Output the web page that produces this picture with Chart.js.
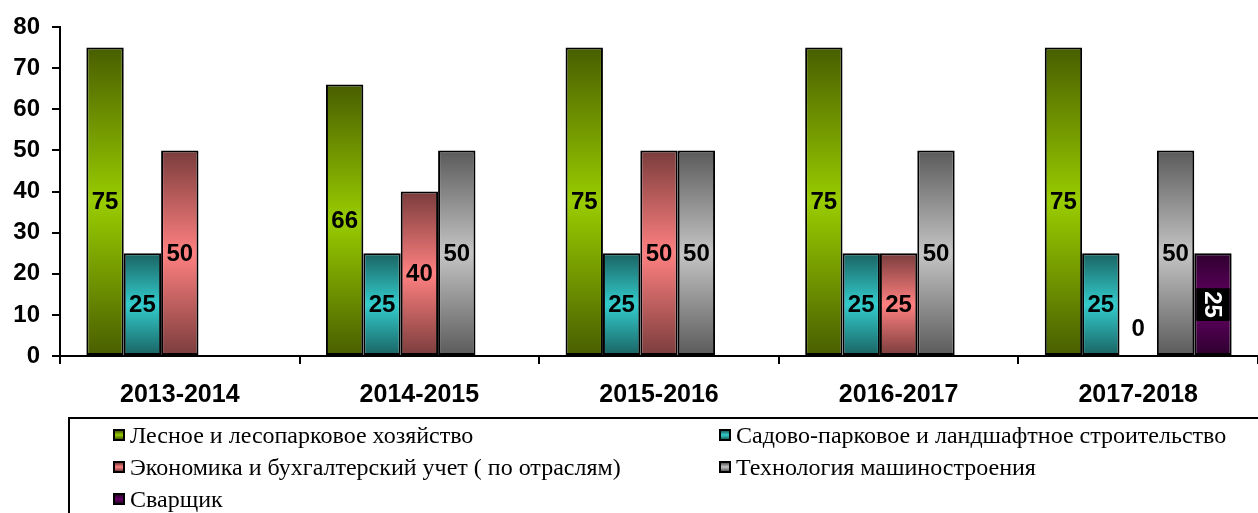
<!DOCTYPE html>
<html>
<head>
<meta charset="utf-8">
<script src="https://cdn.jsdelivr.net/npm/chart.js@4"></script>
<style>
  html, body { margin: 0; padding: 0; background: #fff; overflow: hidden; }
  #wrap { position: relative; width: 1258px; height: 513px; }
  #legend {
    position: absolute; left: 68px; top: 417px; width: 1300px; height: 200px;
    border: 2px solid #000; box-sizing: border-box;
    display: grid; grid-template-columns: 606px auto; grid-auto-rows: 32px;
    padding-left: 43px;
    font-family: "Liberation Serif", "Times New Roman", serif; font-size: 24px; color: #000;
  }
  .item { display: flex; align-items: center; white-space: nowrap; }
  .mark { width: 12px; height: 12px; border: 2px solid #000; box-sizing: border-box; margin-right: 5px; }
</style>
</head>
<body>
<div id="wrap">
  <canvas id="c" width="1258" height="513"></canvas>
  <div id="legend"></div>
</div>
<script>
// data
const years = ['2013-2014', '2014-2015', '2015-2016', '2016-2017', '2017-2018'];
const forestry  = [75, 66, 75, 75, 75];
const gardens   = [25, 25, 25, 25, 25];
const economics = [50, 40, 50, 25, 0];
const machinery = [null, 50, 50, 50, 50];
const welder    = [null, null, null, null, 25];
const yTicks = [0, 10, 20, 30, 40, 50, 60, 70, 80];

const series = [
  { name: 'Лесное и лесопарковое хозяйство', data: forestry, dark: '#485e00', light: '#99cc00' },
  { name: 'Садово-парковое и ландшафтное строительство', data: gardens, dark: '#1a6262', light: '#33cccc' },
  { name: 'Экономика и бухгалтерский учет ( по отраслям)', data: economics, dark: '#7a3c3c', light: '#ff8080' },
  { name: 'Технология машиностроения', data: machinery, dark: '#5a5a5a', light: '#c4c4c4' },
  { name: 'Сварщик', data: welder, dark: '#2e002e', light: '#660066', boxed: true }
];

function barFill(dark, light) {
  return (c) => {
    const chart = c.chart;
    if (!chart.chartArea || c.raw == null) return light;
    const y = chart.scales.y;
    const top = y.getPixelForValue(c.raw), bottom = y.getPixelForValue(0);
    if (bottom - top < 1) return light;
    const g = chart.ctx.createLinearGradient(0, top, 0, bottom);
    g.addColorStop(0, dark);
    g.addColorStop(0.5, light);
    g.addColorStop(1, dark);
    return g;
  };
}

const font = { family: '"Liberation Sans", Arial, sans-serif', size: 24, weight: 'bold' };

// value labels in the middle of each bar
const valueLabels = {
  id: 'valueLabels',
  afterDatasetsDraw(chart) {
    const ctx = chart.ctx;
    const base = chart.scales.y.getPixelForValue(0);
    ctx.save();
    ctx.font = 'bold 24px "Liberation Sans", Arial, sans-serif';
    ctx.textAlign = 'center';
    ctx.textBaseline = 'middle';
    chart.data.datasets.forEach((ds, i) => {
      chart.getDatasetMeta(i).data.forEach((bar, j) => {
        const v = ds.data[j];
        if (v == null) return;
        const x = bar.x;
        const y = v === 0 ? base - 28 : (bar.y + base) / 2;
        const txt = String(v);
        if (ds.boxed) {
          ctx.save();
          ctx.translate(x, y);
          ctx.rotate(Math.PI / 2);
          const w = ctx.measureText(txt).width + 4;
          ctx.fillStyle = '#000';
          ctx.fillRect(-w / 2 - 1, -bar.width / 2 + 2, w + 2, bar.width - 4);
          ctx.fillStyle = '#fff';
          ctx.fillText(txt, 0, 1);
          ctx.restore();
        } else {
          ctx.fillStyle = '#000';
          ctx.fillText(txt, x, y + 1);
        }
      });
    });
    ctx.restore();
  }
};

new Chart(document.getElementById('c'), {
  type: 'bar',
  data: {
    labels: years,
    datasets: series.map(s => ({
      label: s.name,
      data: s.data,
      boxed: !!s.boxed,
      backgroundColor: barFill(s.dark, s.light),
      borderColor: '#000',
      borderWidth: 2,
      borderSkipped: false,
      categoryPercentage: 0.78,
      barPercentage: 1.0
    }))
  },
  options: {
    responsive: false,
    animation: false,
    devicePixelRatio: 1,
    layout: { padding: { top: 27, right: 0, bottom: 97, left: 0 } },
    plugins: { legend: { display: false }, tooltip: { enabled: false } },
    scales: {
      x: {
        afterFit: (s) => { s.height = 60; },
        border: { display: true, color: '#000', width: 2 },
        grid: { drawOnChartArea: false, drawTicks: true, tickLength: 8, color: '#000', lineWidth: 2, offset: true },
        ticks: { color: '#000', font: { family: font.family, size: 25, weight: 'bold' }, padding: 16, maxRotation: 0 }
      },
      y: {
        min: 0, max: 80,
        afterFit: (s) => { s.width = 60; },
        afterBuildTicks: (s) => { s.ticks = yTicks.map(v => ({ value: v })); },
        border: { display: true, color: '#000', width: 2 },
        grid: { drawOnChartArea: false, drawTicks: true, tickLength: 8, color: '#000', lineWidth: 2 },
        ticks: { color: '#000', font: font, padding: 12 }
      }
    }
  },
  plugins: [valueLabels]
});

// legend below, two columns
const legend = document.getElementById('legend');
series.forEach(s => {
  const item = document.createElement('div');
  item.className = 'item';
  const m = document.createElement('span');
  m.className = 'mark';
  m.style.background = 'linear-gradient(' + s.dark + ',' + s.light + ',' + s.dark + ')';
  item.appendChild(m);
  item.appendChild(document.createTextNode(s.name));
  legend.appendChild(item);
});
</script>
</body>
</html>
